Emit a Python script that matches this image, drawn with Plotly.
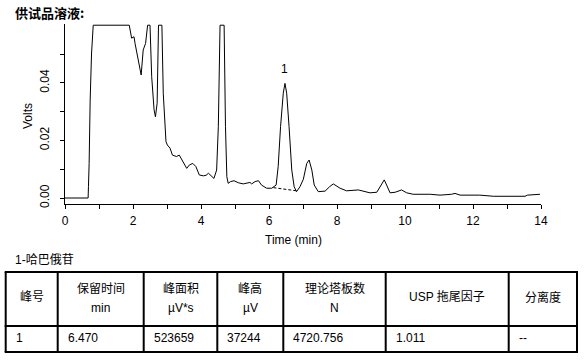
import plotly.graph_objects as go

W, H = 587, 360

# ---- data ----
time_min = [0, 0.68, 0.69, 0.71, 0.74, 0.78, 0.83, 1.89, 1.96, 2.03, 2.06, 2.16, 2.24, 2.30, 2.37,
            2.43, 2.50, 2.55, 2.62, 2.66, 2.71, 2.75, 2.85, 2.89, 2.94, 2.97, 3.01, 3.09, 3.16,
            3.28, 3.36, 3.43, 3.50, 3.58, 3.66, 3.76, 3.85, 3.95, 4.07, 4.15, 4.22, 4.29, 4.38,
            4.46, 4.51, 4.56, 4.68, 4.72, 4.76, 4.80, 4.87, 4.97, 5.10, 5.24, 5.34, 5.44, 5.49,
            5.59, 5.69, 5.78, 5.93, 6.08, 6.21, 6.27, 6.34, 6.42, 6.47, 6.52, 6.59, 6.67, 6.74,
            6.81, 6.91, 7.01, 7.11, 7.18, 7.26, 7.33, 7.45, 7.65, 7.78, 7.89, 8.09, 8.28, 8.63,
            8.97, 9.17, 9.31, 9.39, 9.46, 9.56, 9.71, 9.90, 10.05, 10.24, 10.74, 11.03, 11.37,
            11.47, 11.62, 12.2, 12.6, 13.53, 13.6, 13.97]
volts = [0, 0, 0.004, 0.012, 0.034, 0.050, 0.060, 0.060, 0.0555, 0.056, 0.0537, 0.0479, 0.0427,
         0.0514, 0.0537, 0.060, 0.060, 0.0421, 0.0306, 0.0282, 0.0329, 0.060, 0.060, 0.0364,
         0.0236, 0.0196, 0.0184, 0.0173, 0.0149, 0.0144, 0.0149, 0.0134, 0.0120, 0.0103, 0.0115,
         0.0120, 0.0109, 0.0080, 0.0077, 0.0079, 0.0086, 0.0077, 0.0068, 0.0097, 0.0248, 0.060,
         0.060, 0.0248, 0.0074, 0.0051, 0.0057, 0.0060, 0.0053, 0.0049, 0.0051, 0.0054, 0.0049,
         0.0057, 0.0060, 0.0045, 0.0034, 0.0034, 0.0045, 0.0109, 0.0248, 0.0364, 0.0398, 0.0364,
         0.0248, 0.0097, 0.0039, 0.0022, 0.0039, 0.0065, 0.0120, 0.0132, 0.0097, 0.0045, 0.0022,
         0.0024, 0.0039, 0.0049, 0.0034, 0.0025, 0.0028, 0.0018, 0.0020, 0.0045, 0.0063, 0.0045,
         0.0018, 0.0020, 0.0028, 0.0018, 0.0013, 0.0013, 0.0010, 0.0013, 0.0016, 0.0010, 0.0010,
         0.0006, 0.0006, 0.0010, 0.0013]

baseline_t = [6.13, 6.81]
baseline_v = [0.0036, 0.0025]

peak_label = "1"
peak_t = 6.47
peak_v = 0.0398

x_tickvals = list(range(0, 15))
x_ticktext = [str(v) if v % 2 == 0 else "" for v in x_tickvals]
y_tickvals = [0, 0.01, 0.02, 0.03, 0.04, 0.05]
y_ticktext = ["0.00", "", "0.02", "", "0.04", ""]

title_text = "供试品溶液:"
compound_text = "1-哈巴俄苷"
header_line1 = ["峰号", "保留时间", "峰面积", "峰高", "理论塔板数", "USP 拖尾因子", "分离度"]
header_line2 = ["", "min", "µV*s", "µV", "N", "", ""]
row_values = ["1", "6.470", "523659", "37244", "4720.756", "1.011", "--"]

# ---- layout helpers ----
def px(x):
    return x / W

def py(y):
    return 1 - y / H

FONT = "Liberation Sans, Arial, sans-serif"
CJK = "Liberation Sans, Noto Sans CJK SC, sans-serif"

fig = go.Figure()
fig.add_trace(go.Scatter(x=time_min, y=volts, mode="lines",
                         line=dict(color="black", width=1), showlegend=False,
                         hoverinfo="skip"))
fig.add_trace(go.Scatter(x=baseline_t, y=baseline_v, mode="lines",
                         line=dict(color="black", width=1, dash="3px,2px"), showlegend=False,
                         hoverinfo="skip"))
fig.add_annotation(x=peak_t, y=peak_v, xref="x", yref="y", text=peak_label, showarrow=False,
                   yshift=14, font=dict(family=FONT, size=12, color="black"))

# table geometry
col_edges = [5.7, 57.7, 143.7, 217.3, 283.3, 385.7, 508.7, 577]
row_edges = [272, 326, 352]
shapes = []
for ry in row_edges:
    shapes.append(dict(type="line", xref="paper", yref="paper", x0=px(col_edges[0] - 1),
                       x1=px(col_edges[-1] + 1), y0=py(ry), y1=py(ry),
                       line=dict(color="black", width=2)))
for cx in col_edges:
    shapes.append(dict(type="line", xref="paper", yref="paper", x0=px(cx), x1=px(cx),
                       y0=py(row_edges[0]), y1=py(row_edges[-1]),
                       line=dict(color="black", width=2)))

annotations = []
annotations.append(dict(x=px(13), y=py(13), xref="paper", yref="paper", text="<b>" + title_text + "</b>",
                        showarrow=False, xanchor="left", yanchor="middle",
                        font=dict(family="Noto Sans CJK SC", size=13, color="black")))
annotations.append(dict(x=px(13), y=py(260), xref="paper", yref="paper", text=compound_text,
                        showarrow=False, xanchor="left", yanchor="middle",
                        font=dict(family=CJK, size=12, color="black")))
annotations.append(dict(x=px(293), y=py(240), xref="paper", yref="paper", text="Time (min)",
                        showarrow=False, xanchor="center", yanchor="middle",
                        font=dict(family=FONT, size=12, color="black")))
annotations.append(dict(x=px(28), y=py(116), xref="paper", yref="paper", text="Volts",
                        showarrow=False, xanchor="center", yanchor="middle", textangle=-90,
                        font=dict(family=FONT, size=12, color="black")))
for i in range(len(header_line1)):
    cx = (col_edges[i] + col_edges[i + 1]) / 2
    if header_line2[i]:
        annotations.append(dict(x=px(cx), y=py(288.5), xref="paper", yref="paper",
                                text=header_line1[i], showarrow=False, xanchor="center",
                                yanchor="middle", font=dict(family=CJK, size=12, color="black")))
        annotations.append(dict(x=px(cx), y=py(307.5), xref="paper", yref="paper",
                                text=header_line2[i], showarrow=False, xanchor="center",
                                yanchor="middle", font=dict(family=CJK, size=12, color="black")))
    else:
        annotations.append(dict(x=px(cx), y=py(297), xref="paper", yref="paper",
                                text=header_line1[i], showarrow=False, xanchor="center",
                                yanchor="middle", font=dict(family=CJK, size=12, color="black")))
    annotations.append(dict(x=px(col_edges[i] + 8), y=py(337.5), xref="paper", yref="paper",
                            text=row_values[i], showarrow=False, xanchor="left",
                            yanchor="middle", font=dict(family=CJK, size=12, color="black")))
for a in annotations:
    fig.add_annotation(**a)

fig.update_layout(
    width=W, height=H,
    margin=dict(l=0, r=0, t=0, b=0, pad=0, autoexpand=False),
    paper_bgcolor="white", plot_bgcolor="white",
    showlegend=False,
    hovermode=False,
    shapes=shapes,
    xaxis=dict(domain=[px(65), px(541)], range=[0, 14], tickvals=x_tickvals, ticktext=x_ticktext,
               automargin=False,
               showgrid=False, zeroline=False, showline=True, linecolor="black", linewidth=1,
               ticks="outside", ticklen=4, tickcolor="black", tickwidth=1,
               ticklabelstandoff=2,
               tickfont=dict(family=FONT, size=12, color="black")),
    yaxis=dict(domain=[py(204), py(24)], range=[-0.00208, 0.06042], tickvals=y_tickvals,
               ticktext=y_ticktext, tickangle=-90, automargin=False,
               showgrid=False, zeroline=False, showline=True, linecolor="black", linewidth=1,
               ticks="outside", ticklen=4, tickcolor="black", tickwidth=1,
               ticklabelstandoff=6,
               tickfont=dict(family=FONT, size=12, color="black")),
)

fig.write_html("out.html", config={"displayModeBar": False, "staticPlot": True},
               post_script="document.body.style.margin='0';document.body.style.padding='0';")
